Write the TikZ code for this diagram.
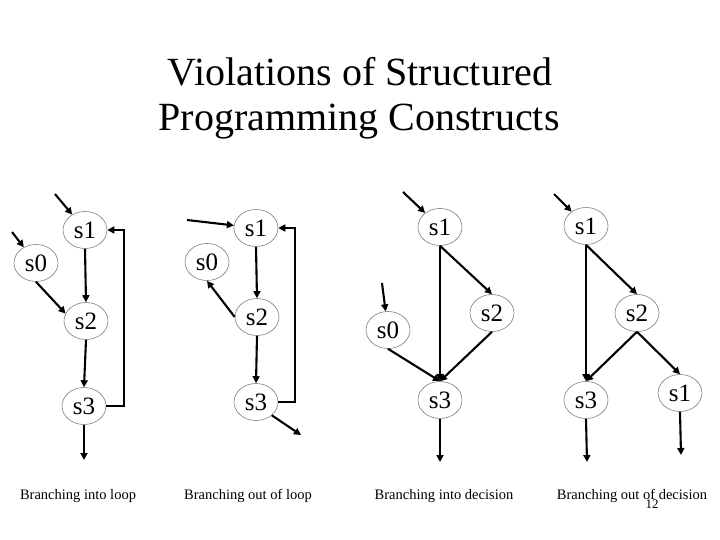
\documentclass[tikz,border=0pt]{standalone}
\usepackage{fontspec}
\setmainfont{Liberation Serif}
\usetikzlibrary{shapes.geometric,arrows.meta}
\tikzset{
  st/.style={ellipse,draw=black!50,line width=0.6pt,minimum width=44pt,minimum height=37pt,inner sep=0pt,font=\fontsize{25}{25}\selectfont},
  ar/.style={line width=2.1pt,-{Triangle[length=7pt,width=7pt]}},
  lbl/.style={anchor=base,font=\fontsize{14.5}{15}\selectfont},
  ttl/.style={anchor=base,font=\fontsize{40}{40}\selectfont}
}
\begin{document}
\begin{tikzpicture}[x=1pt,y=-1pt]
\useasboundingbox (0,0) rectangle (720,540);
% title
\node[ttl] (t1) at (360,86) {Violations of Structured};
\node[ttl] (t2) at (359,131) {Programming Constructs};
% ---- panel 1
\node[st] (a1) at (85,230) {s1};
\node[st] (a0) at (36,263) {s0};
\node[st] (a2) at (86,321) {s2};
\node[st] (a3) at (84,406) {s3};
\coordinate (ai1) at (55,194);
\coordinate (ai0) at (12,232);
\coordinate (ae) at (84,460);
\draw[ar] (ai1) -- (a1);
\draw[ar] (ai0) -- (a0);
\draw[ar] (a1.south) -- (a2.north);
\draw[ar] (a0.south) -- (a2.160);
\draw[ar] (a2.south) -- (a3.north);
\draw[ar] (a3.east) -- ++(18,0) |- (a1.east);
\draw[ar] (a3.south) -- (ae);
\node[lbl] (c1) at (78,499) {Branching into loop};
% ---- panel 2
\node[st] (b1) at (256,228) {s1};
\node[st] (b0) at (207,262) {s0};
\node[st] (b2) at (257,317) {s2};
\node[st] (b3) at (256,402) {s3};
\coordinate (bi1) at (187,220);
\coordinate (be) at (301,435);
\draw[ar] (bi1) -- (b1);
\draw[ar] (b1.south) -- (b2.north);
\draw[ar] (b2.west) -- (b0.south);
\draw[ar] (b2.south) -- (b3.north);
\draw[ar] (b3.east) -- ++(17,0) |- (b1.east);
\draw[ar] (b3.south east) -- (be);
\node[lbl] (c2) at (248,499) {Branching out of loop};
% ---- panel 3
\node[st] (d1) at (440,227) {s1};
\node[st] (d0) at (388,330) {s0};
\node[st] (d2) at (492,313) {s2};
\node[st] (d3) at (440,400) {s3};
\coordinate (di1) at (403,192);
\coordinate (di0) at (382,283);
\coordinate (de) at (440,462);
\draw[ar] (di1) -- (d1);
\draw[ar] (di0) -- (d0);
\draw[ar] (d1.south) -- (d3.north);
\draw[ar] (d1.south) -- (d2.north);
\draw[ar] (d2.south) -- (d3.north);
\draw[ar] (d0.south) -- (d3.north);
\draw[ar] (d3.south) -- (de);
\node[lbl] (c3) at (444,499) {Branching into decision};
% ---- panel 4
\node[st] (e1) at (586,226) {s1};
\node[st] (e2) at (637,313) {s2};
\node[st] (e3) at (586,400) {s3};
\node[st] (e4) at (680,393) {s1};
\coordinate (ei1) at (554,194);
\coordinate (ee3) at (587,462);
\coordinate (ee4) at (681,455);
\draw[ar] (ei1) -- (e1);
\draw[ar] (e1.south) -- (e3.north);
\draw[ar] (e1.south) -- (e2.north);
\draw[ar] (e2.south) -- (e3.north);
\draw[ar] (e2.south) -- (e4.north);
\draw[ar] (e3.south) -- (ee3);
\draw[ar] (e4.south) -- (ee4);
\node[lbl] (c4) at (632,499) {Branching out of decision};
\node[anchor=base,font=\fontsize{13}{13}\selectfont] (pg) at (652,508) {12};
\end{tikzpicture}
\end{document}
